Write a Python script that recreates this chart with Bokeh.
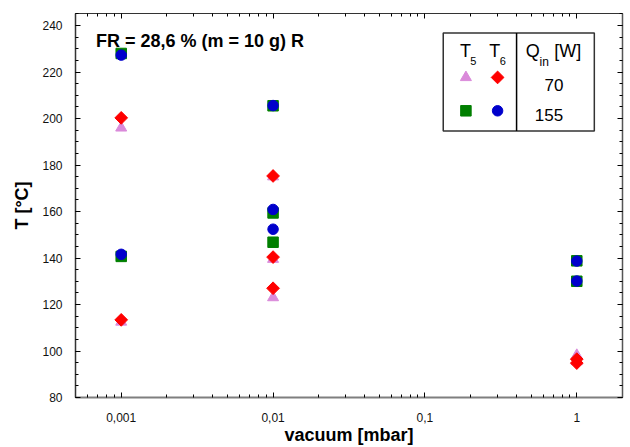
import math
import numpy as np
from bokeh.plotting import figure
from bokeh.models import (Range1d, FixedTicker, LogAxis, LinearAxis, Label,
                          CustomJSTickFormatter)
from bokeh.embed import file_html
from bokeh.resources import INLINE

# ---------------- data ----------------
vac_T5_70 = [0.001, 0.001, 0.01, 0.01, 0.01, 1, 1]
T5_70 = [196.0, 112.5, 175.0, 139.5, 123.0, 98.2, 95.5]

vac_T6_70 = [0.001, 0.001, 0.01, 0.01, 0.01, 1, 1]
T6_70 = [200.3, 113.4, 175.3, 140.4, 127.0, 96.5, 94.8]

vac_T5_155 = [0.001, 0.001, 0.01, 0.01, 0.01, 1, 1]
T5_155 = [228.0, 140.7, 205.5, 159.4, 146.8, 138.8, 130.0]

vac_T6_155 = [0.001, 0.001, 0.01, 0.01, 0.01, 1, 1]
T6_155 = [227.3, 141.6, 205.6, 160.9, 152.4, 138.7, 130.1]

x_ticks = [0.001, 0.01, 0.1, 1]
y_ticks = [80, 100, 120, 140, 160, 180, 200, 220, 240]
qin_labels = ["70", "155"]
title_text = "FR = 28,6 % (m = 10 g) R"

# ---------------- style ----------------
PINK = "#DA8ADA"
RED = "#FF0000"
GREEN = "#007F00"
BLUE = "#0000CC"
FONT = "Liberation Sans"

X0, X1 = 0.0005, 2.0
Y0, Y1 = 80, 245.2

p = figure(x_axis_type="log", x_range=Range1d(X0, X1), y_range=Range1d(Y0, Y1),
           frame_width=547, frame_height=384,
           min_border_left=75, min_border_right=6, min_border_top=13, min_border_bottom=45,
           output_backend="svg", toolbar_location=None,
           background_fill_color="white", border_fill_color="white")
p.outline_line_color = None
p.grid.visible = False

x_minor = [k * 10.0 ** e for e in range(-4, 1) for k in range(2, 10)
           if X0 <= k * 10.0 ** e <= X1]
y_minor = list(range(80, 246, 5))

fmt = CustomJSTickFormatter(code="return String(tick).replace('.', ',');")


def style_axis(ax, show_labels=True):
    ax.major_tick_in = 5
    ax.major_tick_out = 0
    ax.minor_tick_in = 3
    ax.minor_tick_out = 0
    ax.major_tick_line_color = "black"
    ax.minor_tick_line_color = "black"
    if show_labels:
        ax.major_label_text_font = FONT
        ax.major_label_text_font_size = "12px"
        ax.major_label_text_color = "#111111"
    else:
        ax.major_label_text_font_size = "1px"
        ax.major_label_text_alpha = 0
        ax.major_label_standoff = 0


# bottom axis
xa = p.xaxis[0]
xa.ticker = FixedTicker(ticks=x_ticks, minor_ticks=x_minor)
xa.formatter = fmt
style_axis(xa)
xa.major_label_standoff = 15
xa.axis_line_color = "#7f7f7f"
xa.axis_line_width = 2
xa.axis_label = "vacuum [mbar]"
xa.axis_label_text_font = FONT
xa.axis_label_text_font_style = "bold"
xa.axis_label_text_font_size = "18px"
xa.axis_label_text_color = "black"
xa.axis_label_standoff = 0

# left axis
ya = p.yaxis[0]
ya.ticker = FixedTicker(ticks=y_ticks, minor_ticks=y_minor)
style_axis(ya)
ya.major_label_standoff = 13
ya.axis_line_color = "#333333"
ya.axis_line_width = 1.5
ya.axis_label = "T [°C]"
ya.axis_label_text_font = FONT
ya.axis_label_text_font_style = "bold"
ya.axis_label_text_font_size = "18px"
ya.axis_label_text_color = "black"
ya.axis_label_standoff = 7

# top and right axes (ticks only)
top = LogAxis(ticker=FixedTicker(ticks=x_ticks, minor_ticks=x_minor))
style_axis(top, show_labels=False)
top.axis_line_color = "#333333"
top.axis_line_width = 1
p.add_layout(top, "above")

right = LinearAxis(ticker=FixedTicker(ticks=y_ticks, minor_ticks=y_minor))
style_axis(right, show_labels=False)
right.axis_line_color = "#555555"
right.axis_line_width = 1.5
p.add_layout(right, "right")

# ---------------- data marks ----------------
p.scatter(vac_T5_70, T5_70, marker="triangle", size=11, fill_color=PINK, line_color=PINK)
p.scatter(vac_T6_70, T6_70, marker="square", angle=math.pi / 4, size=9,
          fill_color=RED, line_color=RED)
p.scatter(vac_T5_155, T5_155, marker="square", size=10.5, fill_color=GREEN, line_color=GREEN)
p.scatter(vac_T6_155, T6_155, marker="circle", size=10.5, fill_color=BLUE, line_color=BLUE)

# ---------------- legend / annotations (placed by frame geometry) ----------------
FL, FT, FW, FH = 75.3, 13.3, 547.4, 384.4   # reference frame, page pixels
LX0, LX1 = math.log10(X0), math.log10(X1)


def dx(px):
    return 10 ** (LX0 + (px - FL) / FW * (LX1 - LX0))


def dy(py):
    return Y1 - (py - FT) / FH * (Y1 - Y0)


# legend box and divider
bx0, bx1, by0, by1, bdiv = 443.3, 594.5, 32.7, 130.8, 516.7
p.quad(left=[dx(bx0)], right=[dx(bx1)], top=[dy(by0)], bottom=[dy(by1)],
       fill_color=None, line_color="#333333", line_width=1.5)
p.segment(x0=[dx(bdiv)], y0=[dy(by0)], x1=[dx(bdiv)], y1=[dy(by1)],
          line_color="black", line_width=1.5)

# legend markers
c5, c6, r1, r2 = 466.0, 497.7, 77.3, 110.7
p.scatter([dx(c5)], [dy(r1)], marker="triangle", size=11, fill_color=PINK, line_color=PINK)
p.scatter([dx(c6)], [dy(r1)], marker="square", angle=math.pi / 4, size=9,
          fill_color=RED, line_color=RED)
p.scatter([dx(c5)], [dy(r2)], marker="square", size=10.5, fill_color=GREEN, line_color=GREEN)
p.scatter([dx(c6)], [dy(r2)], marker="circle", size=10.5, fill_color=BLUE, line_color=BLUE)


def add_text(px, py, text, size, bold=False):
    p.add_layout(Label(x=dx(px), y=dy(py), text=text, text_font=FONT,
                       text_font_size=size, text_font_style="bold" if bold else "normal",
                       text_align="left", text_baseline="alphabetic", text_color="black"))


add_text(460.2, 51.3, "T", "18px")
add_text(470.3, 60.5, "5", "11px")
add_text(489.4, 51.3, "T", "18px")
add_text(499.8, 60.5, "6", "11px")
add_text(526.0, 51.3, "Q", "18px")
add_text(539.6, 62.0, "in", "12px")
add_text(554.3, 51.3, "[W]", "18px")
add_text(544.6, 84.7, qin_labels[0], "17px")
add_text(535.0, 115.3, qin_labels[1], "17px")

add_text(95.8, 40.7, title_text, "18px", bold=True)

open("out.html", "w").write(file_html(p, INLINE))
